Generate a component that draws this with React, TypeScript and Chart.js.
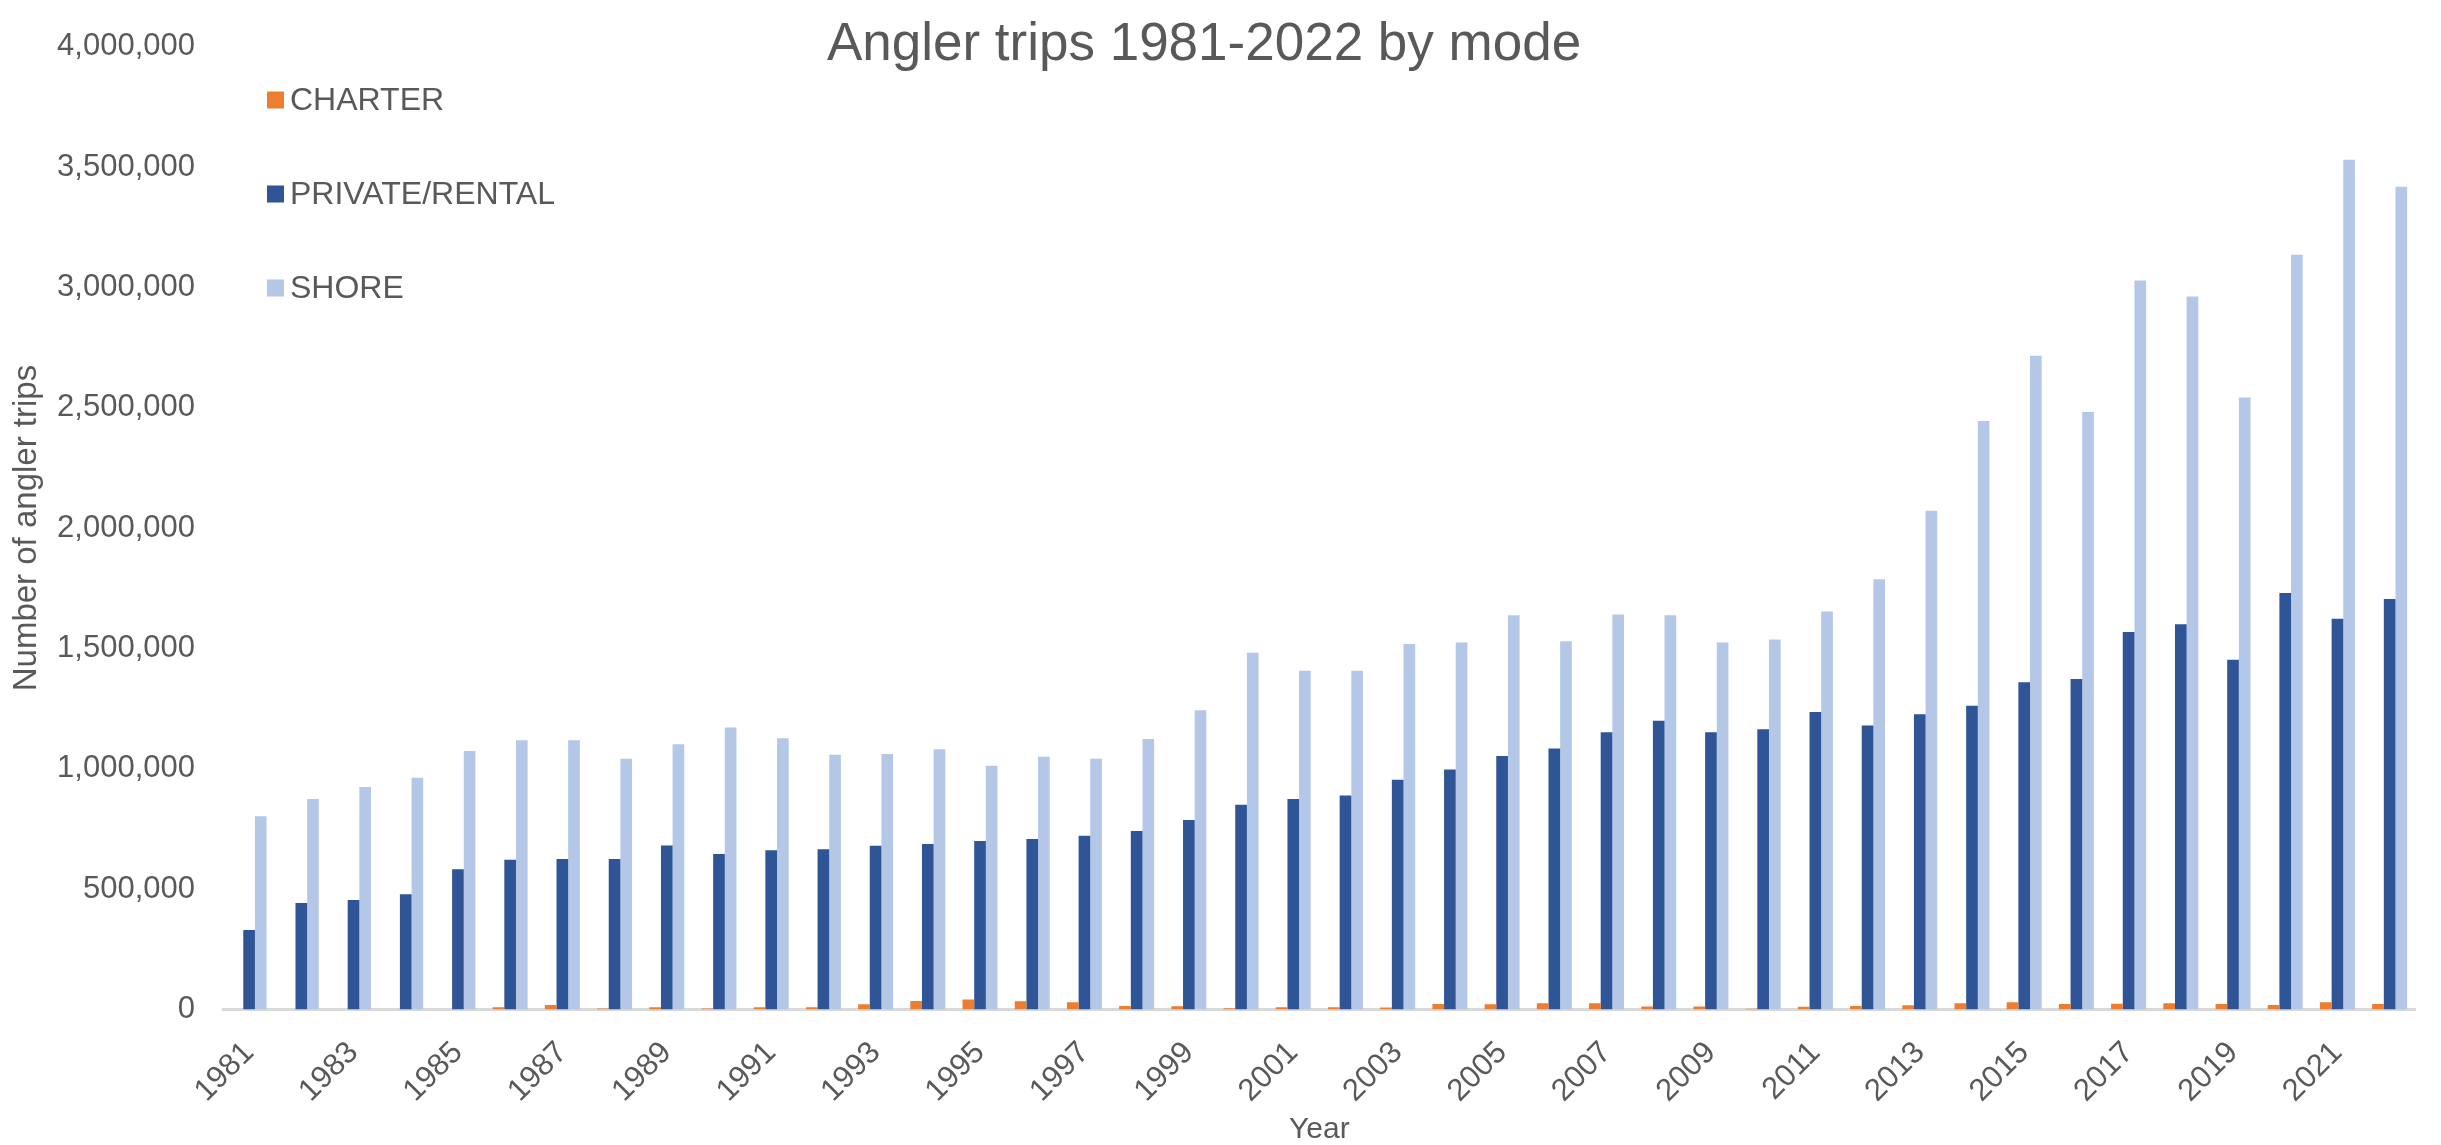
import React, { useEffect, useRef } from "react";
import { Chart, registerables } from "chart.js";

Chart.register(...registerables);

const years = [
  "1981", "1982", "1983", "1984", "1985", "1986", "1987", "1988", "1989", "1990",
  "1991", "1992", "1993", "1994", "1995", "1996", "1997", "1998", "1999", "2000",
  "2001", "2002", "2003", "2004", "2005", "2006", "2007", "2008", "2009", "2010",
  "2011", "2012", "2013", "2014", "2015", "2016", "2017", "2018", "2019", "2020",
  "2021", "2022",
];

const charter = [
  0, 0, 0, 0, 0, 9000, 19000, 4000, 9000, 4000,
  9000, 9000, 22000, 35000, 42000, 34000, 30000, 15000, 13000, 5000,
  9000, 9000, 8000, 23000, 22000, 26000, 26000, 12000, 12000, 3000,
  11000, 15000, 18000, 26000, 30000, 23000, 24000, 26000, 23000, 19000,
  30000, 23000,
];

const privateRental = [
  330000, 442000, 455000, 479000, 583000, 622000, 625000, 625000, 681000, 646000,
  662000, 666000, 680000, 687000, 700000, 708000, 722000, 742000, 787000, 851000,
  874000, 889000, 954000, 997000, 1053000, 1084000, 1152000, 1200000, 1152000, 1164000,
  1236000, 1180000, 1226000, 1262000, 1359000, 1373000, 1568000, 1600000, 1453000, 1730000,
  1623000, 1705000,
];

const shore = [
  803000, 874000, 924000, 963000, 1074000, 1119000, 1119000, 1042000, 1102000, 1171000,
  1127000, 1058000, 1061000, 1081000, 1013000, 1050000, 1042000, 1124000, 1243000, 1482000,
  1407000, 1407000, 1518000, 1525000, 1638000, 1530000, 1641000, 1638000, 1525000, 1537000,
  1653000, 1787000, 2072000, 2445000, 2716000, 2482000, 3028000, 2962000, 2542000, 3135000,
  3530000, 3418000,
];

const seriesNames = ["CHARTER", "PRIVATE/RENTAL", "SHORE"];
const seriesColors = ["#ED7D31", "#2F5597", "#B4C7E7"];
const chartTitle = "Angler trips 1981-2022 by mode";
const yTitle = "Number of angler trips";
const xTitle = "Year";

const FONT = "'Liberation Sans', Arial, Helvetica, sans-serif";
const TEXT = "#595959";

const overlayPlugin = {
  id: "overlay",
  afterDraw(chart: any) {
    const ctx = chart.ctx;
    ctx.save();
    ctx.fillStyle = TEXT;
    ctx.font = `53px ${FONT}`;
    ctx.textAlign = "center";
    ctx.textBaseline = "alphabetic";
    ctx.fillText(chartTitle, 1204, 60);

    ctx.font = `32px ${FONT}`;
    ctx.textAlign = "left";
    ctx.textBaseline = "middle";
    const ys = [100, 194, 288];
    seriesNames.forEach((name, i) => {
      ctx.fillStyle = seriesColors[i];
      ctx.fillRect(267, ys[i] - 8.5, 17, 17);
      ctx.fillStyle = TEXT;
      ctx.fillText(name, 290, ys[i] + 1);
    });
    ctx.restore();
  },
};

export default function App() {
  const ref = useRef<HTMLCanvasElement | null>(null);

  useEffect(() => {
    document.body.style.margin = "0";
    document.body.style.overflow = "hidden";
    const canvas = ref.current;
    if (!canvas) return;
    const chart = new Chart(canvas, {
      type: "bar",
      data: {
        labels: years,
        datasets: [
          { label: seriesNames[0], data: charter, backgroundColor: seriesColors[0] },
          { label: seriesNames[1], data: privateRental, backgroundColor: seriesColors[1] },
          { label: seriesNames[2], data: shore, backgroundColor: seriesColors[2] },
        ],
      },
      options: {
        animation: false,
        responsive: false,
        devicePixelRatio: 1,
        layout: { padding: { left: 0, right: 4, top: 22, bottom: 0 } },
        datasets: {
          bar: { categoryPercentage: 0.67, barPercentage: 1.0 },
        },
        plugins: {
          legend: { display: false },
          title: { display: false },
          tooltip: { enabled: false },
        },
        scales: {
          x: {
            grid: { display: false, drawTicks: false },
            border: { display: true, color: "#D9D9D9", width: 3 },
            ticks: {
              autoSkip: false,
              minRotation: 45,
              maxRotation: 45,
              padding: 25,
              color: TEXT,
              font: { family: FONT, size: 31 },
              callback: (_v: any, i: number) => (i % 2 === 0 ? years[i] : ""),
            },
            title: {
              display: true,
              text: xTitle,
              color: TEXT,
              font: { family: FONT, size: 30, lineHeight: 1.0 },
              padding: { top: 0, bottom: 0 },
            },
            afterFit: (s: any) => {
              s.height = 135.5;
            },
          },
          y: {
            min: 0,
            max: 4000000,
            grid: { display: false, drawTicks: false },
            border: { display: false },
            ticks: {
              stepSize: 500000,
              padding: 28,
              color: TEXT,
              font: { family: FONT, size: 31 },
              callback: (v: any) => Number(v).toLocaleString("en-US"),
            },
            title: {
              display: true,
              text: yTitle,
              color: TEXT,
              font: { family: FONT, size: 33, lineHeight: 1.2 },
              padding: { top: 7, bottom: 0 },
            },
            afterFit: (s: any) => {
              s.width = 223;
            },
          },
        },
      },
      plugins: [overlayPlugin],
    });
    return () => chart.destroy();
  }, []);

  return (
    <div style={{ width: 2441, height: 1145 }}>
      <canvas ref={ref} width={2441} height={1145} style={{ display: "block", width: 2441, height: 1145 }} />
    </div>
  );
}
